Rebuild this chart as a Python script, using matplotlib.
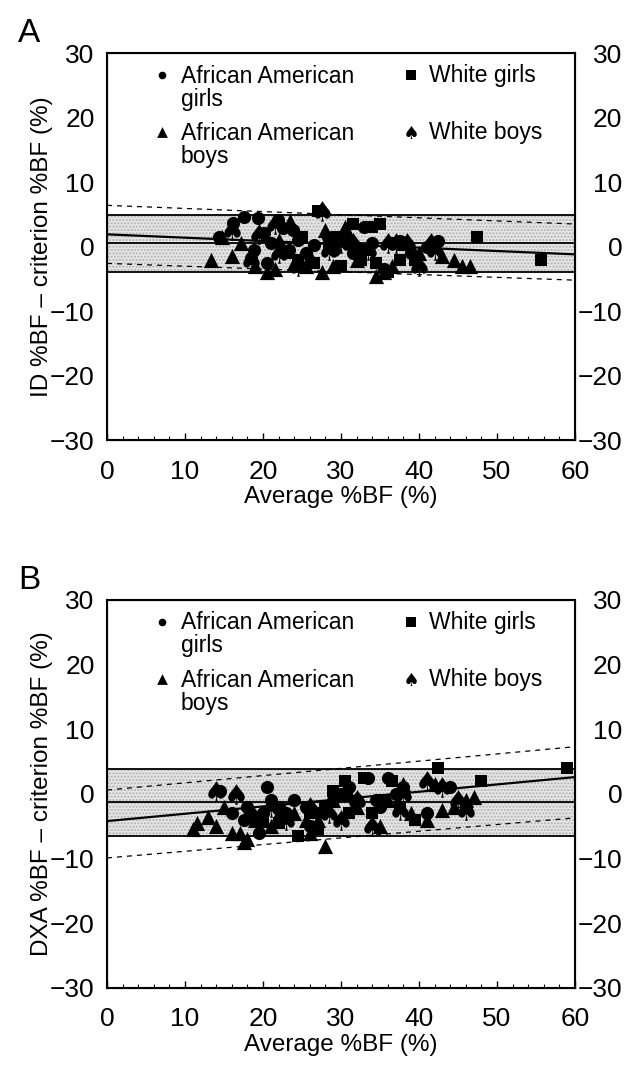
import numpy as np
import matplotlib.pyplot as plt
from matplotlib.ticker import MultipleLocator

plt.rcParams['font.family'] = ['Liberation Sans', 'DejaVu Sans']

# ---------------- Panel A (ID vs criterion) ----------------
a_aag_x = [14.3, 16.2, 17.5, 19.3, 18.4, 18.8, 20.1, 21.9, 22.5, 23.3, 24.5, 25.5, 28.3, 29.1,
           30.5, 31.5, 33.0, 34.0, 36.5, 37.5, 39.0, 41.0, 42.5, 21.0, 23.8, 26.5, 20.5, 35.5]
a_aag_y = [1.5, 3.6, 4.6, 4.4, -1.8, -0.5, 2.1, 4.1, 2.9, -0.5, 1.0, -1.0, 1.5, -0.5,
           2.0, -1.0, 3.0, 0.5, 0.5, 0.8, -1.0, 0.0, 0.8, 0.5, 2.5, 0.2, -2.5, -3.5]
a_aab_x = [13.3, 14.8, 16.0, 17.2, 19.0, 20.5, 21.5, 22.0, 23.5, 24.0, 25.5, 27.5, 29.0, 30.5,
           31.0, 32.0, 34.5, 35.5, 36.5, 38.0, 40.0, 42.0, 43.0, 44.5, 45.5, 46.5, 26.0, 28.0]
a_aab_y = [-2.1, 1.5, -1.5, 0.5, -3.0, -4.0, -3.5, 1.0, 4.0, -2.5, -3.0, -4.0, -3.0, 3.0,
           1.0, -2.0, -4.5, -4.0, -3.0, 0.5, -1.0, 0.5, -1.5, -2.0, -3.0, -3.0, -1.5, 2.5]
a_wg_x = [27.0, 26.5, 24.5, 23.0, 29.5, 31.5, 33.0, 34.0, 35.0, 32.5, 34.5, 39.5, 36.0, 47.5,
          55.7, 37.5, 30.0, 28.5, 25.0]
a_wg_y = [5.5, -2.5, -2.0, -1.0, 1.5, 3.5, -0.5, 3.0, 3.5, -2.0, -2.5, -2.0, -4.0, 1.5,
          -2.1, -2.0, -3.0, 0.0, 1.5]
a_wb_x = [16.0, 18.5, 22.0, 24.5, 27.5, 28.5, 30.0, 31.5, 33.5, 36.0, 37.0, 38.5, 40.0, 41.5,
          42.0, 21.5, 19.5]
a_wb_y = [2.5, -2.0, -1.0, -3.0, 5.5, -0.5, 0.5, 0.5, -0.5, 0.5, 0.5, 0.5, -3.0, 0.5,
          -0.5, 3.5, 2.0]
# bias, limits of agreement, regression line and its prediction limits (value at x=0, x=60)
a_bias = 0.5
a_loa = [-4.0, 4.9]
a_reg = [1.9, -1.2]
a_upper = [6.4, 3.5]
a_lower = [-2.6, -5.2]

# ---------------- Panel B (DXA vs criterion) ----------------
b_aag_x = [14.5, 16.0, 17.5, 18.0, 19.0, 19.5, 20.0, 21.0, 22.0, 23.0, 24.0, 25.5, 27.0, 29.0,
           30.0, 31.0, 32.0, 33.5, 34.5, 36.0, 37.0, 38.0, 41.0, 44.0, 46.0, 20.5, 26.0, 35.0]
b_aag_y = [0.5, -3.0, -4.0, -2.0, -4.0, -6.0, -3.0, -1.0, -2.0, -3.0, -1.0, -2.0, -3.0, -1.0,
           0.0, 1.0, -1.0, 2.5, -1.0, 2.5, 0.0, 1.0, -3.0, 1.0, -2.0, 1.0, -5.0, -2.0]
b_aab_x = [11.0, 11.5, 13.0, 14.0, 15.0, 16.0, 17.0, 17.5, 18.0, 19.0, 20.0, 21.0, 22.0, 24.0,
           25.5, 26.0, 27.0, 28.0, 29.0, 31.0, 32.0, 35.0, 36.0, 38.0, 39.0, 41.0, 42.0, 44.5,
           46.0, 47.0, 43.0]
b_aab_y = [-5.5, -4.5, -3.5, -5.0, -2.0, -6.0, -6.0, -7.5, -7.0, -4.0, -4.0, -5.0, -3.0, -3.0,
           -4.0, -6.0, -4.0, -8.0, -1.0, 0.0, -2.0, -5.0, -1.0, 1.5, -3.0, -4.0, 1.5, -2.0,
           -1.0, -0.5, -2.5]
b_wg_x = [20.0, 22.0, 24.5, 27.0, 28.0, 29.0, 30.5, 33.0, 34.0, 35.5, 36.5, 37.5, 39.5, 42.5,
          48.0, 59.0, 31.0, 26.0]
b_wg_y = [-4.0, -4.5, -6.5, -5.5, -2.0, 0.5, 2.0, 2.5, -3.0, -1.0, 2.0, -2.0, -4.0, 4.0,
          2.0, 4.0, -3.0, -3.0]
b_wb_x = [14.0, 16.5, 18.5, 21.0, 23.0, 26.0, 28.5, 30.0, 32.0, 34.0, 37.5, 38.0, 41.0, 43.0,
          45.0, 46.0]
b_wb_y = [0.5, 0.0, -3.0, -2.0, -4.0, -2.0, -3.0, -4.0, -1.0, -5.0, -2.5, 0.0, 2.0, 1.0,
          -1.0, -2.5]
b_bias = -1.2
b_loa = [-6.5, 3.9]
b_reg = [-4.2, 2.6]
b_upper = [0.6, 7.3]
b_lower = [-9.9, -3.7]

xlim = [0, 60]
yticks = [-30, -20, -10, 0, 10, 20, 30]

SPADE = '$\u2660$'


def draw_panel(ax, groups, bias, loa, reg, upper, lower, ylabel, letter):
    # shaded limits of agreement
    ax.fill_between(xlim, loa[0], loa[1], facecolor='#e6e6e6', hatch='.....',
                    edgecolor='#b0b0b0', linewidth=0, zorder=1)
    ax.plot(xlim, [loa[0], loa[0]], color='k', lw=1.3, zorder=2)
    ax.plot(xlim, [loa[1], loa[1]], color='k', lw=1.3, zorder=2)
    ax.plot(xlim, [bias, bias], color='k', lw=1.3, zorder=2)
    ax.plot(xlim, reg, color='k', lw=1.6, zorder=2)
    ax.plot(xlim, upper, color='k', lw=0.9, ls=(0, (4, 4)), zorder=2)
    ax.plot(xlim, lower, color='k', lw=0.9, ls=(0, (4, 4)), zorder=2)

    (gx, gy), (bx, by), (wgx, wgy), (wbx, wby) = groups
    ax.scatter(gx, gy, marker='o', s=90, color='k', lw=0, zorder=3)
    ax.scatter(bx, by, marker='^', s=120, color='k', lw=0, zorder=3)
    ax.scatter(wgx, wgy, marker='s', s=85, color='k', lw=0, zorder=3)
    ax.scatter(wbx, wby, marker=SPADE, s=220, color='k', lw=0, zorder=3)

    ax.set_xlim(xlim)
    ax.set_ylim(-30, 30)
    ax.set_yticks(yticks)
    ax.xaxis.set_major_locator(MultipleLocator(10))
    ax.xaxis.set_minor_locator(MultipleLocator(2))
    ax.tick_params(axis='x', direction='in', length=5, width=1, labelsize=19, pad=14)
    ax.tick_params(axis='x', which='minor', direction='in', length=3, width=0.8)
    ax.tick_params(axis='y', length=0, labelsize=19, pad=9)
    for s in ax.spines.values():
        s.set_linewidth(1.5)
    ax.set_xlabel('Average %BF (%)', fontsize=17.5, labelpad=2)
    ax.set_ylabel(ylabel, fontsize=17.5, labelpad=-2)

    ax2 = ax.twinx()
    ax2.set_ylim(-30, 30)
    ax2.set_yticks(yticks)
    ax2.tick_params(axis='y', length=0, labelsize=19, pad=34)
    for lab in ax2.get_yticklabels():
        lab.set_horizontalalignment('right')

    # legend (two columns, wrapped labels)
    kx1, tx1, kx2, tx2 = 0.118, 0.157, 0.65, 0.688
    ty1, ty2 = 0.943, 0.795
    ax.scatter([kx1], [ty1], transform=ax.transAxes, marker='o', s=30, color='k', lw=0, zorder=4)
    ax.scatter([kx1], [ty2], transform=ax.transAxes, marker='^', s=60, color='k', lw=0, zorder=4)
    ax.scatter([kx2], [ty1], transform=ax.transAxes, marker='s', s=60, color='k', lw=0, zorder=4)
    ax.scatter([kx2], [ty2], transform=ax.transAxes, marker=SPADE, s=90, color='k', lw=0, zorder=4)
    kw = dict(transform=ax.transAxes, fontsize=16.5, va='center', ha='left', linespacing=1.0)
    ax.text(tx1, ty1 - 0.032, 'African American\ngirls', **kw)
    ax.text(tx1, ty2 - 0.032, 'African American\nboys', **kw)
    ax.text(tx2, ty1, 'White girls', **kw)
    ax.text(tx2, ty2, 'White boys', **kw)

    ax.text(-0.19, 1.01, letter, transform=ax.transAxes, fontsize=24, ha='left', va='bottom')


fig = plt.figure(figsize=(6.41, 10.84), dpi=100)
axA = fig.add_axes([0.167, 0.594, 0.730, 0.357])
axB = fig.add_axes([0.167, 0.0886, 0.730, 0.358])

draw_panel(axA, [(a_aag_x, a_aag_y), (a_aab_x, a_aab_y), (a_wg_x, a_wg_y), (a_wb_x, a_wb_y)],
           a_bias, a_loa, a_reg, a_upper, a_lower, 'ID %BF \u2013 criterion %BF (%)', 'A')
draw_panel(axB, [(b_aag_x, b_aag_y), (b_aab_x, b_aab_y), (b_wg_x, b_wg_y), (b_wb_x, b_wb_y)],
           b_bias, b_loa, b_reg, b_upper, b_lower, 'DXA %BF \u2013 criterion %BF (%)', 'B')

fig.savefig('out.png', dpi=100)
